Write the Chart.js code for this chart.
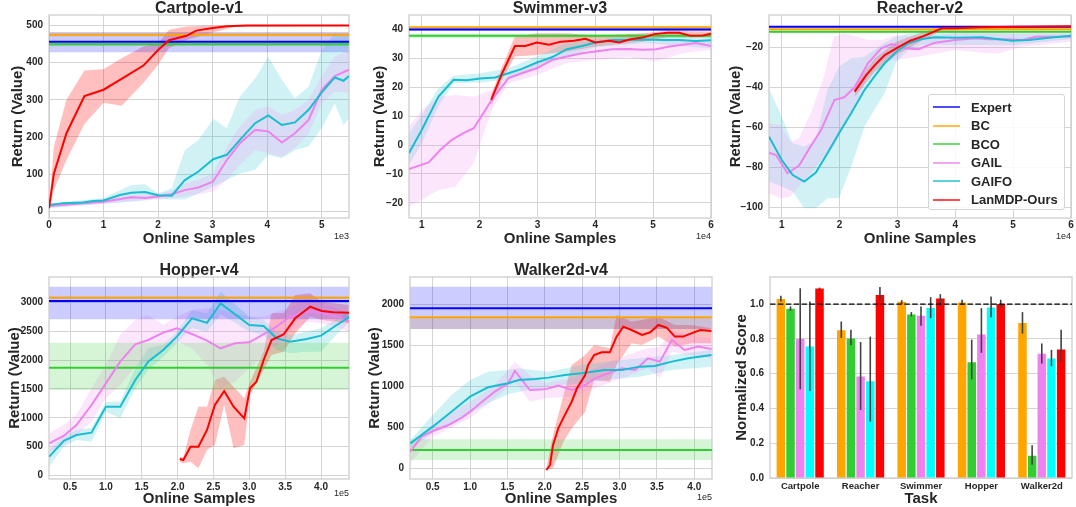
<!DOCTYPE html>
<html>
<head>
<meta charset="utf-8">
<script src="https://cdn.jsdelivr.net/npm/chart.js@4.4.1/dist/chart.umd.min.js"></script>
<style>
    body { margin: 0; background: #fff; }
    #page { position: relative; width: 1076px; height: 507px; overflow: hidden; background: #fff; }
    #page canvas { position: absolute; }
    #legend {
        position: absolute; left: 928px; top: 94px; width: 137px; height: 116px;
        box-sizing: border-box; padding-top: 3px; z-index: 5;
        border: 1px solid #d4d4d4; border-radius: 3px; background: rgba(255, 255, 255, 0.85);
        font: bold 13px "Liberation Sans", Arial, sans-serif; color: #262626;
    }
    #legend .row { display: flex; align-items: center; height: 18.5px; }
    #legend .swatch { width: 27px; height: 2px; margin-left: 4px; margin-right: 11px; opacity: 0.7; }
</style>
</head>
<body>
<div id="page">
    <canvas id="cartpole" width="357" height="250" style="left:0px;top:0px"></canvas>
    <canvas id="swimmer" width="359" height="250" style="left:360px;top:0px"></canvas>
    <canvas id="reacher" width="356" height="250" style="left:720px;top:0px"></canvas>
    <canvas id="hopper" width="357" height="245" style="left:0px;top:262px"></canvas>
    <canvas id="walker" width="359" height="245" style="left:361px;top:262px"></canvas>
    <canvas id="scores" width="355" height="245" style="left:721px;top:262px"></canvas>
    <div id="legend"></div>
</div>
<script>
// ---- series names / colours
const names = ['Expert', 'BC', 'BCO', 'GAIL', 'GAIFO', 'LanMDP-Ours'];
const lineColors = ['#0000ff', '#ffa500', '#32cd32', '#ee82ee', '#17becf', '#ff0000'];
const bandColors = ['rgba(0,0,255,0.2)', 'rgba(255,165,0,0.2)', 'rgba(50,205,50,0.2)',
    'rgba(238,130,238,0.2)', 'rgba(23,190,207,0.2)', 'rgba(255,0,0,0.25)'];

// ---- Cartpole-v1 (x in 1e3 samples)
const cpXTicks = [0, 1, 2, 3, 4, 5];
const cpYTicks = [0, 100, 200, 300, 400, 500];
const cpRef = [456, 475, 449];          // Expert, BC, BCO
const cpRefLo = [428, 470, 444];
const cpRefHi = [482, 480, 455];
const cpGailX = [0, 1.0, 1.51, 1.76, 2.0, 2.25, 2.49, 2.74, 3.01, 3.26, 3.5, 3.78, 4.02, 4.27, 4.51, 4.76, 5.0, 5.24, 5.5];
const cpGail = [14, 26, 38, 36, 40, 46, 57, 64, 80, 138, 183, 219, 215, 185, 210, 246, 327, 364, 381];
const cpGailHi = [20, 32, 44, 45, 47, 55, 75, 85, 102, 174, 228, 273, 282, 259, 273, 300, 363, 416, 434];
const cpGailLo = [11, 20, 28, 30, 32, 36, 40, 46, 53, 84, 125, 165, 156, 147, 170, 210, 291, 322, 318];
const cpGaifoX = [0, 0.26, 0.62, 0.81, 1.0, 1.3, 1.51, 1.76, 2.0, 2.25, 2.49, 2.74, 3.01, 3.26, 3.5, 3.78, 4.02, 4.27, 4.51, 4.76, 5.0, 5.24, 5.4, 5.5];
const cpGaifo = [17, 22, 24, 28, 29, 44, 50, 52, 43, 42, 84, 107, 140, 152, 192, 237, 258, 232, 239, 273, 320, 360, 351, 364];
const cpGaifoBX = [0, 1.0, 1.51, 1.76, 2.0, 2.25, 2.49, 2.74, 3.01, 3.26, 3.5, 3.78, 4.02, 4.27, 4.51, 4.76, 5.0, 5.24, 5.4, 5.5];
const cpGaifoHi = [20, 36, 71, 73, 48, 62, 165, 192, 248, 224, 309, 358, 415, 354, 304, 336, 434, 479, 470, 479];
const cpGaifoLo = [8, 20, 26, 30, 35, 32, 32, 48, 66, 84, 102, 111, 152, 143, 165, 174, 224, 290, 232, 250];
const cpOursX = [0, 0.09, 0.32, 0.65, 1.0, 1.33, 1.73, 2.0, 2.2, 2.52, 2.7, 3.0, 3.26, 3.62, 5.5];
const cpOurs = [8, 102, 210, 310, 327, 356, 392, 434, 460, 472, 486, 493, 498, 500, 500];
const cpOursBX = [0, 0.09, 0.32, 0.65, 1.0, 1.33, 1.73, 2.0, 2.2, 2.52, 3.0, 3.4, 5.5];
const cpOursHi = [10, 174, 300, 379, 382, 412, 443, 452, 488, 497, 500, 500, 500];
const cpOursLo = [6, 57, 138, 235, 292, 284, 345, 394, 439, 461, 481, 496, 500];

// ---- Swimmer-v3 (x in 1e4)
const swXTicks = [1, 2, 3, 4, 5, 6];
const swYTicks = [-20, -10, 0, 10, 20, 30, 40];
const swRef = [39.9, 40.7, 37.7];
const swRefLo = [39.4, 40.2, 37.0];
const swRefHi = [40.4, 41.2, 38.4];
const swGailX = [0.78, 1.12, 1.32, 1.52, 1.72, 1.9, 2.21, 2.5, 2.73, 2.99, 3.25, 3.51, 3.77, 4.0, 4.29, 4.58, 4.82, 5.05, 5.28, 5.51, 5.74, 6.0];
const swGail = [-8.3, -6.0, -1.7, 1.8, 4.1, 5.8, 15.6, 23.1, 24.8, 26.5, 29.4, 30.6, 31.7, 32.3, 33.1, 33.2, 32.9, 33.1, 34.0, 34.6, 35.2, 34.2];
const swGailBX = [0.78, 1.0, 1.29, 1.58, 1.9, 2.21, 2.5, 2.99, 3.51, 4.0, 4.58, 5.05, 5.51, 6.0];
const swGailHi = [6.4, 12.1, 16.7, 17.3, 16.7, 19.0, 24.2, 28.3, 32.9, 34.0, 35.2, 35.7, 36.3, 35.7];
const swGailLo = [-21.3, -19.0, -15.5, -14.4, -6.3, 12.1, 21.3, 24.2, 28.3, 29.4, 30.3, 28.8, 31.7, 32.9];
const swGaifoX = [0.78, 1.0, 1.29, 1.55, 1.78, 2.01, 2.27, 2.5, 2.73, 2.99, 3.25, 3.51, 3.77, 4.0, 4.29, 4.58, 4.87, 5.16, 5.45, 5.74, 6.0];
const swGaifo = [-2.8, 5.2, 16.7, 22.5, 22.4, 23.0, 23.3, 24.8, 26.3, 28.5, 30.3, 33.1, 34.2, 35.4, 36.3, 36.3, 36.4, 36.3, 36.3, 35.9, 36.2];
const swGaifoBX = [0.78, 1.0, 1.29, 1.55, 2.01, 2.5, 2.99, 3.51, 4.0, 4.87, 6.0];
const swGaifoHi = [4, 10.4, 19.6, 23.9, 24.8, 26.5, 30.6, 35.4, 36.5, 37.5, 37.2];
const swGaifoLo = [-6.9, 0.6, 13.5, 21.3, 21.6, 22.5, 26.5, 30.6, 33.8, 35.2, 33.4];
const swOursX = [2.2, 2.39, 2.61, 2.79, 2.99, 3.2, 3.4, 3.63, 3.83, 4.0, 4.24, 4.41, 4.61, 4.82, 5.02, 5.25, 5.45, 5.65, 5.86, 6.0];
const swOurs = [15.6, 24.8, 34.2, 34.2, 35.4, 34.6, 35.7, 36.0, 36.7, 35.4, 36.0, 35.4, 36.5, 37.1, 38.3, 38.8, 38.8, 37.7, 37.8, 38.4];
const swOursBX = [2.2, 2.39, 2.61, 2.99, 3.51, 4.0, 4.82, 5.25, 6.0];
const swOursHi = [17.3, 27.1, 37.5, 38.6, 38.6, 37.7, 38.6, 39.5, 39.2];
const swOursLo = [13.3, 22.5, 30.6, 31.1, 32.3, 34.0, 35.7, 37.2, 37.2];

// ---- Reacher-v2 (x in 1e4)
const reXTicks = [1, 2, 3, 4, 5, 6];
const reYTicks = [-100, -80, -60, -40, -20];
const reRef = [-9.5, -10.8, -12.0];
const reRefLo = [-9.9, -11.3, -12.6];
const reRefHi = [-9.1, -10.3, -11.4];
const reGailX = [0.78, 0.9, 1.1, 1.3, 1.48, 1.68, 1.91, 2.08, 2.26, 2.49, 2.72, 2.9, 3.13, 3.36, 3.65, 4.0, 4.35, 4.58, 4.87, 5.16, 5.39, 5.74, 6.0];
const reGail = [-72.5, -73.7, -82.8, -79, -70.3, -61.2, -46.2, -44.8, -39.8, -27.8, -20.3, -18.2, -20.3, -20.8, -17.5, -16.2, -15.3, -15.8, -15.8, -16.2, -14.5, -14.5, -14.5];
const reGailBX = [0.78, 0.98, 1.15, 1.3, 1.5, 1.73, 1.9, 2.08, 2.31, 2.49, 2.72, 2.98, 3.36, 4.0, 4.58, 4.75, 5.16, 6.0];
const reGailHi = [-57.8, -58.7, -67, -65.3, -52.8, -34.5, -14.5, -12.8, -14.5, -16.2, -16.2, -13.7, -14.5, -12.8, -12.8, -12.8, -12.8, -12.8];
const reGailLo = [-92.8, -95.3, -94.5, -89.5, -82.8, -74.5, -69.5, -59.5, -46.2, -34.5, -27, -26.2, -24.5, -21.2, -22.8, -22.8, -19.5, -17];
const reGaifoX = [0.78, 1.0, 1.19, 1.39, 1.59, 1.79, 1.99, 2.2, 2.43, 2.6, 2.78, 2.98, 3.19, 3.42, 3.65, 4.0, 4.46, 4.75, 4.98, 5.27, 5.62, 6.0];
const reGaifo = [-64.5, -76.2, -83.7, -87, -82.5, -72.8, -62.8, -52.8, -41.2, -34.5, -27.8, -22, -17.8, -15.7, -14.8, -15, -14.8, -15.8, -16.5, -16.2, -15, -14];
const reGaifoBX = [0.78, 1.0, 1.19, 1.39, 1.59, 1.79, 1.99, 2.2, 2.43, 2.6, 2.78, 2.98, 3.19, 3.42, 4.0, 5.04, 6.0];
const reGaifoHi = [-40.3, -54.5, -67.8, -69.5, -66.2, -41.2, -29.5, -25.3, -24.5, -21.2, -17.5, -14.5, -13, -12, -12, -12.8, -12.8];
const reGaifoLo = [-87, -89.5, -92, -100.3, -100.3, -95.3, -95.3, -79.5, -59.5, -51.2, -42.8, -27, -21.2, -18.7, -18.7, -18.7, -15.8];
const reOursX = [2.26, 2.46, 2.61, 2.78, 2.98, 3.22, 3.45, 3.77, 4.0, 4.46, 5.04, 6.0];
const reOurs = [-42, -33.7, -28.7, -23.7, -20.3, -16.5, -14.2, -10.3, -10.3, -9.8, -9.5, -9.3];
const reOursBX = [2.26, 2.61, 2.98, 3.45, 3.77, 6.0];
const reOursHi = [-38.7, -25.3, -17, -12, -9.5, -9.2];
const reOursLo = [-44.5, -32, -23.7, -16.2, -11.5, -9.8];

// ---- Hopper-v4 (x in 1e5)
const hoXTicks = [0.5, 1.0, 1.5, 2.0, 2.5, 3.0, 3.5, 4.0];
const hoYTicks = [0, 500, 1000, 1500, 2000, 2500, 3000];
const hoRef = [3029, 3087, 1871];
const hoRefLo = [2710, 3065, 1483];
const hoRefHi = [3278, 3110, 2305];
const hoGailX = [0.21, 0.41, 0.59, 0.8, 1.0, 1.2, 1.41, 1.59, 1.8, 1.99, 2.2, 2.41, 2.6, 2.8, 3.0, 3.22, 3.38, 3.57, 3.8, 4.0, 4.22, 4.4];
const hoGail = [556, 683, 874, 1222, 1598, 1975, 2276, 2351, 2479, 2554, 2456, 2340, 2207, 2293, 2311, 2467, 2583, 2757, 2844, 2832, 2757, 2670];
const hoGailHi = [730, 874, 1048, 1512, 1917, 2438, 2699, 2786, 2612, 2757, 2873, 2902, 2873, 2815, 2757, 2757, 2844, 2902, 3075, 3017, 2900, 2815];
const hoGailLo = [411, 527, 701, 932, 1338, 1569, 1888, 1975, 2178, 2322, 2207, 1917, 1512, 1627, 1859, 2091, 2264, 2496, 2670, 2641, 2580, 2485];
const hoGaifoX = [0.21, 0.41, 0.59, 0.8, 1.0, 1.2, 1.41, 1.59, 1.8, 1.99, 2.2, 2.41, 2.6, 2.81, 3.0, 3.2, 3.38, 3.57, 3.8, 4.0, 4.22, 4.4];
const hoGaifo = [324, 597, 701, 741, 1193, 1193, 1656, 1975, 2178, 2409, 2727, 2651, 2988, 2790, 2611, 2593, 2380, 2322, 2369, 2427, 2612, 2757];
const hoGaifoHi = [440, 672, 788, 828, 1280, 1280, 1859, 2207, 2264, 2496, 2873, 2815, 3191, 2960, 2757, 2699, 2496, 2438, 2496, 2554, 2720, 2844];
const hoGaifoLo = [151, 498, 614, 585, 1106, 990, 1512, 1830, 2062, 2293, 2560, 2496, 2800, 2641, 2496, 2438, 2178, 2120, 2149, 2149, 2450, 2670];
const hoOursX = [2.03, 2.08, 2.18, 2.29, 2.41, 2.52, 2.65, 2.78, 2.93, 3.01, 3.1, 3.2, 3.31, 3.48, 3.64, 3.85, 4.01, 4.17, 4.4];
const hoOurs = [284, 266, 498, 498, 788, 1222, 1465, 1193, 990, 1512, 1627, 2004, 2351, 2450, 2728, 2930, 2855, 2832, 2826];
const hoOursBX = [2.03, 2.08, 2.18, 2.29, 2.41, 2.52, 2.65, 2.78, 2.93, 3.01, 3.2, 3.31, 3.48, 3.64, 3.85, 4.01, 4.4];
const hoOursHi = [324, 310, 788, 1193, 1193, 1656, 1714, 1541, 1338, 1627, 2149, 2815, 2815, 3133, 3162, 3017, 2960];
const hoOursLo = [237, 208, 237, 122, 440, 527, 1222, 469, 527, 1396, 1830, 2091, 2149, 2467, 2757, 2699, 2641];

// ---- Walker2d-v4 (x in 1e5)
const waXTicks = [0.5, 1.0, 1.5, 2.0, 2.5, 3.0, 3.5, 4.0];
const waYTicks = [0, 500, 1000, 1500, 2000];
const waRef = [1951, 1841, 224];
const waRefLo = [1699, 1700, 102];
const waRefHi = [2215, 1841, 354];
const waGailX = [0.2, 0.35, 0.5, 0.71, 0.89, 1.0, 1.16, 1.33, 1.51, 1.6, 1.8, 2.0, 2.18, 2.36, 2.54, 2.67, 2.85, 3.03, 3.21, 3.38, 3.54, 3.7, 3.87, 4.05, 4.23];
const waGail = [203, 386, 455, 528, 618, 691, 813, 935, 1037, 1187, 955, 963, 1008, 955, 1016, 1098, 1159, 1220, 1199, 1341, 1301, 1565, 1443, 1484, 1455];
const waGailBX = [0.2, 0.5, 1.0, 1.33, 1.6, 1.8, 2.0, 2.36, 2.67, 3.03, 3.38, 3.54, 3.7, 4.05, 4.23];
const waGailHi = [285, 537, 813, 1016, 1301, 1138, 1037, 1098, 1220, 1362, 1463, 1480, 1687, 1606, 1585];
const waGailLo = [61, 386, 610, 854, 1057, 813, 854, 874, 976, 1098, 1220, 1098, 1423, 1362, 1341];
const waGaifoX = [0.2, 0.5, 0.75, 1.0, 1.24, 1.51, 1.65, 1.87, 2.05, 2.27, 2.49, 2.8, 3.03, 3.27, 3.47, 3.7, 3.92, 4.23];
const waGaifo = [305, 508, 691, 874, 988, 1037, 1077, 1089, 1106, 1138, 1159, 1199, 1199, 1240, 1248, 1301, 1341, 1382];
const waGaifoBX = [0.2, 0.5, 0.75, 1.0, 1.24, 1.51, 1.65, 2.05, 2.49, 2.8, 3.27, 3.7, 4.23];
const waGaifoHi = [346, 650, 894, 1077, 1179, 1199, 1220, 1179, 1260, 1301, 1341, 1382, 1443];
const waGaifoLo = [244, 427, 528, 671, 793, 902, 935, 996, 1037, 1077, 1118, 1199, 1240];
const waOursX = [2.02, 2.07, 2.11, 2.18, 2.25, 2.36, 2.43, 2.54, 2.58, 2.66, 2.76, 2.87, 2.96, 3.05, 3.16, 3.3, 3.41, 3.52, 3.63, 3.74, 3.85, 3.96, 4.08, 4.23];
const waOurs = [-20, 41, 285, 488, 618, 813, 976, 1138, 1260, 1382, 1415, 1415, 1606, 1728, 1687, 1626, 1659, 1748, 1715, 1606, 1606, 1646, 1687, 1675];
const waOursBX = [2.02, 2.11, 2.18, 2.25, 2.36, 2.54, 2.66, 2.87, 2.96, 3.16, 3.3, 3.52, 3.74, 3.96, 4.23];
const waOursHi = [0, 407, 650, 894, 1260, 1382, 1504, 1463, 1870, 1789, 1809, 1850, 1748, 1748, 1707];
const waOursLo = [-20, 0, 163, 325, 488, 691, 1077, 1057, 1260, 1524, 1504, 1606, 1484, 1524, 1524];

// ---- normalized scores (bar chart)
const tasks = ['Cartpole', 'Reacher', 'Swimmer', 'Hopper', 'Walker2d'];
const scoreYTicks = [0, 0.2, 0.4, 0.6, 0.8, 1.0];
const expertLevel = 1.0;
const bcScore = [1.03, 0.85, 1.013, 1.01, 0.891];
const bcLo = [1.015, 0.805, 1.0, 0.996, 0.83];
const bcHi = [1.048, 0.90, 1.023, 1.025, 0.954];
const bcoScore = [0.973, 0.803, 0.941, 0.666, 0.128];
const bcoLo = [0.962, 0.763, 0.929, 0.567, 0.076];
const bcoHi = [0.987, 0.853, 0.954, 0.796, 0.189];
const gailScore = [0.80, 0.584, 0.933, 0.826, 0.714];
const gailLo = [0.51, 0.391, 0.876, 0.72, 0.658];
const gailHi = [1.092, 0.782, 0.987, 0.977, 0.773];
const gaifoScore = [0.756, 0.557, 0.977, 0.981, 0.687];
const gaifoLo = [0.50, 0.324, 0.92, 0.924, 0.643];
const gaifoHi = [1.015, 0.813, 1.04, 1.044, 0.737];
const oursScore = [1.09, 1.053, 1.032, 1.0, 0.739];
const oursLo = [1.085, 1.019, 0.99, 0.977, 0.668];
const oursHi = [1.095, 1.099, 1.057, 1.025, 0.853];

// ---------------------------------------------------------------
const FONT = '"Liberation Sans", Arial, Helvetica, sans-serif';
const TEXT = '#262626';
const GRID = '#d4d4d4';
Chart.defaults.font.family = FONT;
Chart.defaults.color = TEXT;

function fmt(v, dec) {
    return Number(v).toFixed(dec).replace('-', '\u2212');
}

function pts(xs, ys) {
    return xs.map((x, i) => ({ x: x, y: ys[i] }));
}

// upper edge + lower edge filled back to it
function band(xs, lo, hi, color) {
    return [
        { data: pts(xs, hi), borderWidth: 0, borderColor: 'rgba(0,0,0,0)', pointRadius: 0, fill: false, order: 50 },
        { data: pts(xs, lo), borderWidth: 0, borderColor: 'rgba(0,0,0,0)', pointRadius: 0, fill: '-1', backgroundColor: color, order: 50 }
    ];
}

function line(xs, ys, color, order) {
    return { data: pts(xs, ys), borderColor: color, borderWidth: 2, pointRadius: 0, fill: false, tension: 0, order: order };
}

// frame around the plot + the "1e3" style offset label
const framePlugin = {
    id: 'frame',
    beforeDatasetsDraw(chart) {
        const a = chart.chartArea, ctx = chart.ctx;
        ctx.save();
        ctx.strokeStyle = '#cccccc';
        ctx.lineWidth = 1.25;
        ctx.strokeRect(a.left, a.top, a.right - a.left, a.bottom - a.top);
        ctx.restore();
    },
    afterDraw(chart, args, opts) {
        if (!opts.text) return;
        const a = chart.chartArea, ctx = chart.ctx;
        ctx.save();
        ctx.font = '9px ' + FONT;
        ctx.fillStyle = TEXT;
        ctx.textAlign = 'right';
        ctx.textBaseline = 'middle';
        ctx.fillText(opts.text, a.right, a.bottom + opts.dy);
        ctx.restore();
    }
};

function makeLineChart(id, p) {
    let sets = [];
    const xMin = p.xRange[0], xMax = p.xRange[1];
    // reference bands (Expert, BC, BCO)
    p.ref.forEach((v, i) => {
        sets = sets.concat(band([xMin, xMax], [p.refLo[i], p.refLo[i]], [p.refHi[i], p.refHi[i]], bandColors[i]));
    });
    // learner bands
    p.series.forEach(s => {
        sets = sets.concat(band(s.bx || s.x, s.lo, s.hi, bandColors[s.k]));
    });
    p.ref.forEach((v, i) => {
        sets.push(line([xMin, xMax], [v, v], lineColors[i], 10));
    });
    p.series.forEach(s => {
        sets.push(line(s.x, s.y, lineColors[s.k], 6 - s.k));
    });

    return new Chart(document.getElementById(id), {
        type: 'line',
        data: { datasets: sets },
        options: {
            responsive: false,
            animation: false,
            events: [],
            layout: { padding: { left: 0, right: p.padRight, top: 0, bottom: 0 } },
            plugins: {
                legend: { display: false },
                tooltip: { enabled: false },
                filler: { drawTime: 'beforeDatasetsDraw' },
                title: {
                    display: true, text: p.title, fullSize: false, color: TEXT,
                    padding: { top: 2, bottom: 0 },
                    font: { size: 16, weight: 'bold', lineHeight: 0.8125 }
                },
                frame: { text: p.offText, dy: p.offDy }
            },
            scales: {
                x: {
                    type: 'linear', min: xMin, max: xMax, bounds: 'data',
                    afterBuildTicks: s => { s.ticks = p.xTicks.map(v => ({ value: v })); },
                    afterFit: s => { s.height = p.xHeight; s.paddingLeft = 0; s.paddingRight = 0; },
                    grid: { color: GRID, lineWidth: 1, drawTicks: false },
                    border: { display: false },
                    ticks: {
                        padding: p.xTickPad, autoSkip: false, maxRotation: 0,
                        font: { size: 10, weight: 'bold' },
                        callback: v => fmt(v, p.xDec)
                    },
                    title: {
                        display: true, text: 'Online Samples', color: TEXT,
                        font: { size: 15, weight: 'bold', lineHeight: 1 },
                        padding: { top: 0, bottom: p.xTitlePad }
                    }
                },
                y: {
                    type: 'linear', min: p.yRange[0], max: p.yRange[1], bounds: 'data',
                    afterBuildTicks: s => { s.ticks = p.yTicks.map(v => ({ value: v })); },
                    afterFit: s => { s.width = 49; s.paddingTop = 0; s.paddingBottom = 0; },
                    grid: { color: GRID, lineWidth: 1, drawTicks: false },
                    border: { display: false },
                    ticks: {
                        padding: 6, autoSkip: false,
                        font: { size: 10, weight: 'bold' },
                        callback: v => fmt(v, 0)
                    },
                    title: {
                        display: true, text: 'Return (Value)', color: TEXT,
                        font: { size: 15, weight: 'bold', lineHeight: 1 },
                        padding: { top: p.yTitlePad, bottom: 0 }
                    }
                }
            }
        },
        plugins: [framePlugin]
    });
}

makeLineChart('cartpole', {
    title: 'Cartpole-v1', xRange: [0, 5.5], yRange: [-18, 528], xTicks: cpXTicks, yTicks: cpYTicks, xDec: 0,
    ref: cpRef, refLo: cpRefLo, refHi: cpRefHi,
    series: [
        { k: 3, x: cpGailX, y: cpGail, lo: cpGailLo, hi: cpGailHi },
        { k: 4, x: cpGaifoX, y: cpGaifo, bx: cpGaifoBX, lo: cpGaifoLo, hi: cpGaifoHi },
        { k: 5, x: cpOursX, y: cpOurs, bx: cpOursBX, lo: cpOursLo, hi: cpOursHi }
    ],
    offText: '1e3', offDy: 19, padRight: 8, xHeight: 32, xTickPad: 1.5, xTitlePad: 4, yTitlePad: 10.8
});

makeLineChart('swimmer', {
    title: 'Swimmer-v3', xRange: [0.78, 6.0], yRange: [-25.2, 44.9], xTicks: swXTicks, yTicks: swYTicks, xDec: 0,
    ref: swRef, refLo: swRefLo, refHi: swRefHi,
    series: [
        { k: 3, x: swGailX, y: swGail, bx: swGailBX, lo: swGailLo, hi: swGailHi },
        { k: 4, x: swGaifoX, y: swGaifo, bx: swGaifoBX, lo: swGaifoLo, hi: swGaifoHi },
        { k: 5, x: swOursX, y: swOurs, bx: swOursBX, lo: swOursLo, hi: swOursHi }
    ],
    offText: '1e4', offDy: 19, padRight: 8, xHeight: 32, xTickPad: 1.5, xTitlePad: 4, yTitlePad: 12.5
});

makeLineChart('reacher', {
    title: 'Reacher-v2', xRange: [0.78, 6.0], yRange: [-105.2, -3.65], xTicks: reXTicks, yTicks: reYTicks, xDec: 0,
    ref: reRef, refLo: reRefLo, refHi: reRefHi,
    series: [
        { k: 3, x: reGailX, y: reGail, bx: reGailBX, lo: reGailLo, hi: reGailHi },
        { k: 4, x: reGaifoX, y: reGaifo, bx: reGaifoBX, lo: reGaifoLo, hi: reGaifoHi },
        { k: 5, x: reOursX, y: reOurs, bx: reOursBX, lo: reOursLo, hi: reOursHi }
    ],
    offText: '1e4', offDy: 19, padRight: 5, xHeight: 32, xTickPad: 1.5, xTitlePad: 4, yTitlePad: 8.2
});

makeLineChart('hopper', {
    title: 'Hopper-v4', xRange: [0.207, 4.39], yRange: [-64, 3446], xTicks: hoXTicks, yTicks: hoYTicks, xDec: 1,
    ref: hoRef, refLo: hoRefLo, refHi: hoRefHi,
    series: [
        { k: 3, x: hoGailX, y: hoGail, lo: hoGailLo, hi: hoGailHi },
        { k: 4, x: hoGaifoX, y: hoGaifo, lo: hoGaifoLo, hi: hoGaifoHi },
        { k: 5, x: hoOursX, y: hoOurs, bx: hoOursBX, lo: hoOursLo, hi: hoOursHi }
    ],
    offText: '1e5', offDy: 15, padRight: 8, xHeight: 28, xTickPad: 2, xTitlePad: 0.5, yTitlePad: 7.5
});

makeLineChart('walker', {
    title: 'Walker2d-v4', xRange: [0.196, 4.237], yRange: [-130, 2333], xTicks: waXTicks, yTicks: waYTicks, xDec: 1,
    ref: waRef, refLo: waRefLo, refHi: waRefHi,
    series: [
        { k: 3, x: waGailX, y: waGail, bx: waGailBX, lo: waGailLo, hi: waGailHi },
        { k: 4, x: waGaifoX, y: waGaifo, bx: waGaifoBX, lo: waGaifoLo, hi: waGaifoHi },
        { k: 5, x: waOursX, y: waOurs, bx: waOursBX, lo: waOursLo, hi: waOursHi }
    ],
    offText: '1e5', offDy: 18.5, padRight: 8, xHeight: 28, xTickPad: 2, xTitlePad: 0.5, yTitlePad: 6.5
});

// ---- error bars + dashed expert level for the bar chart
const errBarPlugin = {
    id: 'errbars',
    afterDatasetsDraw(chart) {
        const ctx = chart.ctx, ys = chart.scales.y, a = chart.chartArea;
        ctx.save();
        ctx.strokeStyle = '#424242';
        ctx.lineWidth = 1.6;
        chart.data.datasets.forEach((ds, i) => {
            chart.getDatasetMeta(i).data.forEach((bar, j) => {
                ctx.beginPath();
                ctx.moveTo(bar.x, ys.getPixelForValue(ds.errLo[j]));
                ctx.lineTo(bar.x, ys.getPixelForValue(ds.errHi[j]));
                ctx.stroke();
            });
        });
        const yy = ys.getPixelForValue(expertLevel);
        ctx.setLineDash([5.5, 2.4]);
        ctx.strokeStyle = '#000';
        ctx.lineWidth = 1.4;
        ctx.beginPath();
        ctx.moveTo(a.left, yy);
        ctx.lineTo(a.right, yy);
        ctx.stroke();
        ctx.restore();
    }
};

function barSet(k, vals, lo, hi) {
    return {
        label: names[k], data: vals, errLo: lo, errHi: hi,
        backgroundColor: k === 4 ? '#00ffff' : lineColors[k], borderWidth: 0,
        categoryPercentage: 0.8, barPercentage: 0.88
    };
}

new Chart(document.getElementById('scores'), {
    type: 'bar',
    data: {
        labels: tasks,
        datasets: [
            barSet(1, bcScore, bcLo, bcHi),
            barSet(2, bcoScore, bcoLo, bcoHi),
            barSet(3, gailScore, gailLo, gailHi),
            barSet(4, gaifoScore, gaifoLo, gaifoHi),
            barSet(5, oursScore, oursLo, oursHi)
        ]
    },
    options: {
        responsive: false,
        animation: false,
        events: [],
        layout: { padding: { left: 0, right: 4, top: 15, bottom: 0 } },
        plugins: { legend: { display: false }, tooltip: { enabled: false }, frame: {} },
        scales: {
            x: {
                afterFit: s => { s.height = 29; s.paddingLeft = 0; s.paddingRight = 0; },
                grid: { display: false, drawTicks: false },
                border: { display: false },
                ticks: { padding: 3, font: { size: 9.5, weight: 'bold' } },
                title: {
                    display: true, text: 'Task', color: TEXT,
                    font: { size: 15, weight: 'bold', lineHeight: 1 },
                    padding: { top: 0, bottom: 0.5 }
                }
            },
            y: {
                min: 0, max: 1.156, bounds: 'data',
                afterBuildTicks: s => { s.ticks = scoreYTicks.map(v => ({ value: v })); },
                afterFit: s => { s.width = 49; s.paddingTop = 0; s.paddingBottom = 0; },
                grid: { color: GRID, lineWidth: 1, drawTicks: false },
                border: { display: false },
                ticks: { padding: 6, font: { size: 10, weight: 'bold' }, callback: v => fmt(v, 1) },
                title: {
                    display: true, text: 'Normalized Score', color: TEXT,
                    font: { size: 15, weight: 'bold', lineHeight: 1 },
                    padding: { top: 13.5, bottom: 0 }
                }
            }
        }
    },
    plugins: [framePlugin, errBarPlugin]
});

// legend for the Reacher panel
const legendBox = document.getElementById('legend');
names.forEach((n, i) => {
    const row = document.createElement('div');
    row.className = 'row';
    row.innerHTML = '<span class="swatch" style="background:' + lineColors[i] + '"></span><span>' + n + '</span>';
    legendBox.appendChild(row);
});
</script>
</body>
</html>
